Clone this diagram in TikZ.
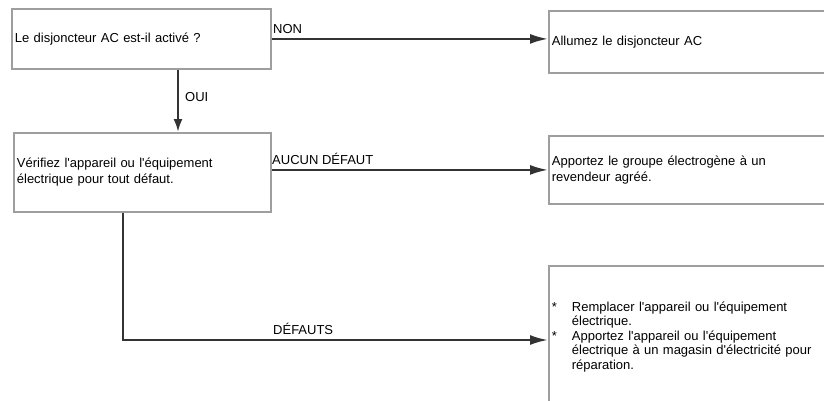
\documentclass[tikz,border=0pt]{standalone}
\usepackage{fontspec}
\setmainfont{Liberation Sans}
\usetikzlibrary{arrows.meta}
\newcommand{\qt}{\textquotesingle}
\begin{document}
\begin{tikzpicture}[x=1pt,y=-1pt,
  box/.style={draw=black!38, line width=1.8pt, fill=white, anchor=north west,
    align=left, inner xsep=3pt, inner ysep=0pt,
    font=\fontsize{13}{16}\selectfont},
  lbl/.style={font=\fontsize{13}{16}\selectfont, inner sep=0pt},
  arr/.style={draw=black!80, line width=2.2pt, -{Latex[length=18pt,width=10pt]}}]
\useasboundingbox (0,0) rectangle (824,400);

\node[box, text width=253pt, minimum height=60pt] (b1) at (11,8)
  {Le disjoncteur AC est-il activé ?};
\node[box, text width=251pt, minimum height=79pt] (b2) at (13,132)
  {Vérifiez l\qt appareil ou l\qt équipement\\électrique pour tout défaut.};
\node[box, text width=276pt, minimum height=62pt] (b3) at (548,10)
  {Allumez le disjoncteur AC};
\node[box, text width=276pt, minimum height=68pt] (b4) at (548,135)
  {Apportez le groupe électrogène à un\\revendeur agréé.};
\node[box, text width=276pt, minimum height=142pt,
  font=\fontsize{13}{14.5}\selectfont] (b5) at (548,265)
  {\makebox[20pt][l]{*}Remplacer l\qt appareil ou l\qt équipement\\
   \hspace*{20pt}électrique.\\
   \makebox[20pt][l]{*}Apportez l\qt appareil ou l\qt équipement\\
   \hspace*{20pt}électrique à un magasin d\qt électricité pour\\
   \hspace*{20pt}réparation.};

\coordinate (d) at (123,340);

\draw[arr] (b1.east) -- (b1.east -| b3.west);
\draw[arr, -{Latex[length=13pt,width=9pt]}] (b1.south -| 178,0) -- (b2.north -| 178,0);
\draw[arr] (b2.east |- b4.west) -- (b4.west);
\draw[arr] (b2.south -| d) |- (b5.west |- d);

\node[lbl, anchor=base west] (non) at (273,33) {NON};
\node[lbl, anchor=base west] (oui) at (185,101) {OUI};
\node[lbl, anchor=base west] (aucun) at (272,164) {AUCUN DÉFAUT};
\node[lbl, anchor=base west] (def) at (273,334) {DÉFAUTS};
\end{tikzpicture}
\end{document}
